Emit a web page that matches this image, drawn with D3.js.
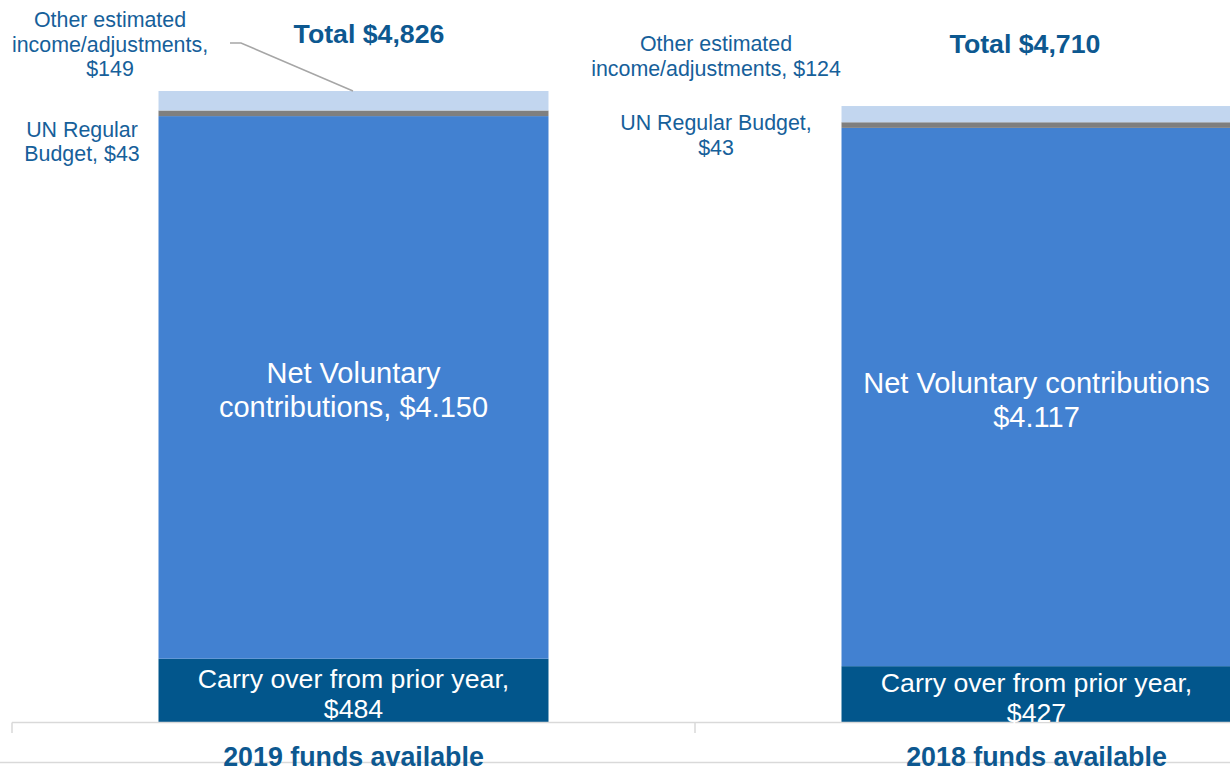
<!DOCTYPE html>
<html>
<head>
<meta charset="utf-8">
<script src="https://cdn.jsdelivr.net/npm/d3@7"></script>
<style>
  body { margin: 0; background: #fff; }
  svg { display: block; font-family: "Liberation Sans", Arial, sans-serif; }
</style>
</head>
<body>
<div id="chart"></div>
<script>
// funds available, USD millions
const categories = ["2019 funds available", "2018 funds available"];
const carryOver = [484, 427];
const netVoluntary = [4150, 4117];
const unRegular = [43, 43];
const otherIncome = [149, 124];
const totals = ["Total $4,826", "Total $4,710"];
const seriesKeys = ["carry", "netVol", "unReg", "other"];
const seriesColors = ["#02568c", "#4281d1", "#7f7f7f", "#c2d6ef"];

const width = 1230, height = 768;
const labelBlue = "#16609a";
const boldBlue = "#0d5890";

const svg = d3.select("#chart")
    .append("svg")
    .attr("width", width)
    .attr("height", height);

const table = categories.map((c, i) => ({
    cat: c,
    carry: carryOver[i],
    netVol: netVoluntary[i],
    unReg: unRegular[i],
    other: otherIncome[i]
}));

const x = d3.scaleBand()
    .domain(categories)
    .range([12, 1378]);
const barW = x.bandwidth() * 0.571;
const barX = d => x(d) + (x.bandwidth() - barW) / 2;
const barC = d => x(d) + x.bandwidth() / 2;

const y = d3.scaleLinear()
    .domain([0, 5000])
    .range([722, 722 - 5000 * (631 / 4826)]);

const stacked = d3.stack().keys(seriesKeys)(table);

svg.append("g")
    .selectAll("g")
    .data(stacked)
    .enter().append("g")
    .attr("fill", (d, i) => seriesColors[i])
    .selectAll("rect")
    .data(d => d)
    .enter().append("rect")
    .attr("x", d => barX(d.data.cat))
    .attr("y", d => y(d[1]))
    .attr("width", barW)
    .attr("height", d => y(d[0]) - y(d[1]));

// category axis
const axisY = 722.5;
svg.append("line")
    .attr("x1", 12).attr("x2", width)
    .attr("y1", axisY).attr("y2", axisY)
    .attr("stroke", "#d9d9d9").attr("stroke-width", 1.5);
svg.selectAll(".tick")
    .data(categories)
    .enter().append("line")
    .attr("x1", d => x(d)).attr("x2", d => x(d))
    .attr("y1", axisY).attr("y2", 733)
    .attr("stroke", "#d9d9d9").attr("stroke-width", 1.5);

// lower frame line
svg.append("line")
    .attr("x1", 0).attr("x2", width)
    .attr("y1", 762.5).attr("y2", 762.5)
    .attr("stroke", "#d9d9d9").attr("stroke-width", 1.5);

svg.selectAll(".cat")
    .data(categories)
    .enter().append("text")
    .attr("x", d => barC(d))
    .attr("y", 766)
    .attr("text-anchor", "middle")
    .attr("font-size", 26.8)
    .attr("font-weight", "bold")
    .attr("fill", boldBlue)
    .text(d => d);

// helper for multi-line labels
function multiText(g, lines, cx, y0, lh, size, color, weight) {
    const t = g.append("text")
        .attr("text-anchor", "middle")
        .attr("font-size", size)
        .attr("fill", color)
        .attr("font-weight", weight || "normal");
    lines.forEach((l, i) => {
        t.append("tspan").attr("x", cx).attr("y", y0 + i * lh).text(l);
    });
    return t;
}

// labels inside bars
const netLabels = [["Net Voluntary", "contributions, $4.150"], ["Net Voluntary contributions", "$4.117"]];
const netLabelY = [383, 393];
const carryLabels = [["Carry over from prior year,", "$484"], ["Carry over from prior year,", "$427"]];
const carryLabelY = [688, 692];

categories.forEach((c, i) => {
    multiText(svg, netLabels[i], barC(c), netLabelY[i], 33.5, 29, "#fff");
    multiText(svg, carryLabels[i], barC(c), carryLabelY[i], 30, 26.7, "#fff");
});

// totals
const totalPos = [[369, 43], [1025, 53]];
categories.forEach((c, i) => {
    svg.append("text")
        .attr("x", totalPos[i][0])
        .attr("y", totalPos[i][1])
        .attr("text-anchor", "middle")
        .attr("font-size", 26.7)
        .attr("font-weight", "bold")
        .attr("fill", boldBlue)
        .text(totals[i]);
});

// outside labels
multiText(svg, ["Other estimated", "income/adjustments,", "$149"], 110, 27, 24.5, 21.4, labelBlue);
multiText(svg, ["UN Regular", "Budget, $43"], 82, 137, 24, 21.4, labelBlue);
multiText(svg, ["Other estimated", "income/adjustments, $124"], 716, 51, 24.5, 21.4, labelBlue);
multiText(svg, ["UN Regular Budget,", "$43"], 716, 130, 24.5, 21.4, labelBlue);

// leader line for 2019 other
svg.append("polyline")
    .attr("points", [[230, 43], [241, 43], [353, y(table[0].carry + table[0].netVol + table[0].unReg + table[0].other)]].join(" "))
    .attr("fill", "none")
    .attr("stroke", "#a6a6a6")
    .attr("stroke-width", 1.5);
</script>
</body>
</html>
